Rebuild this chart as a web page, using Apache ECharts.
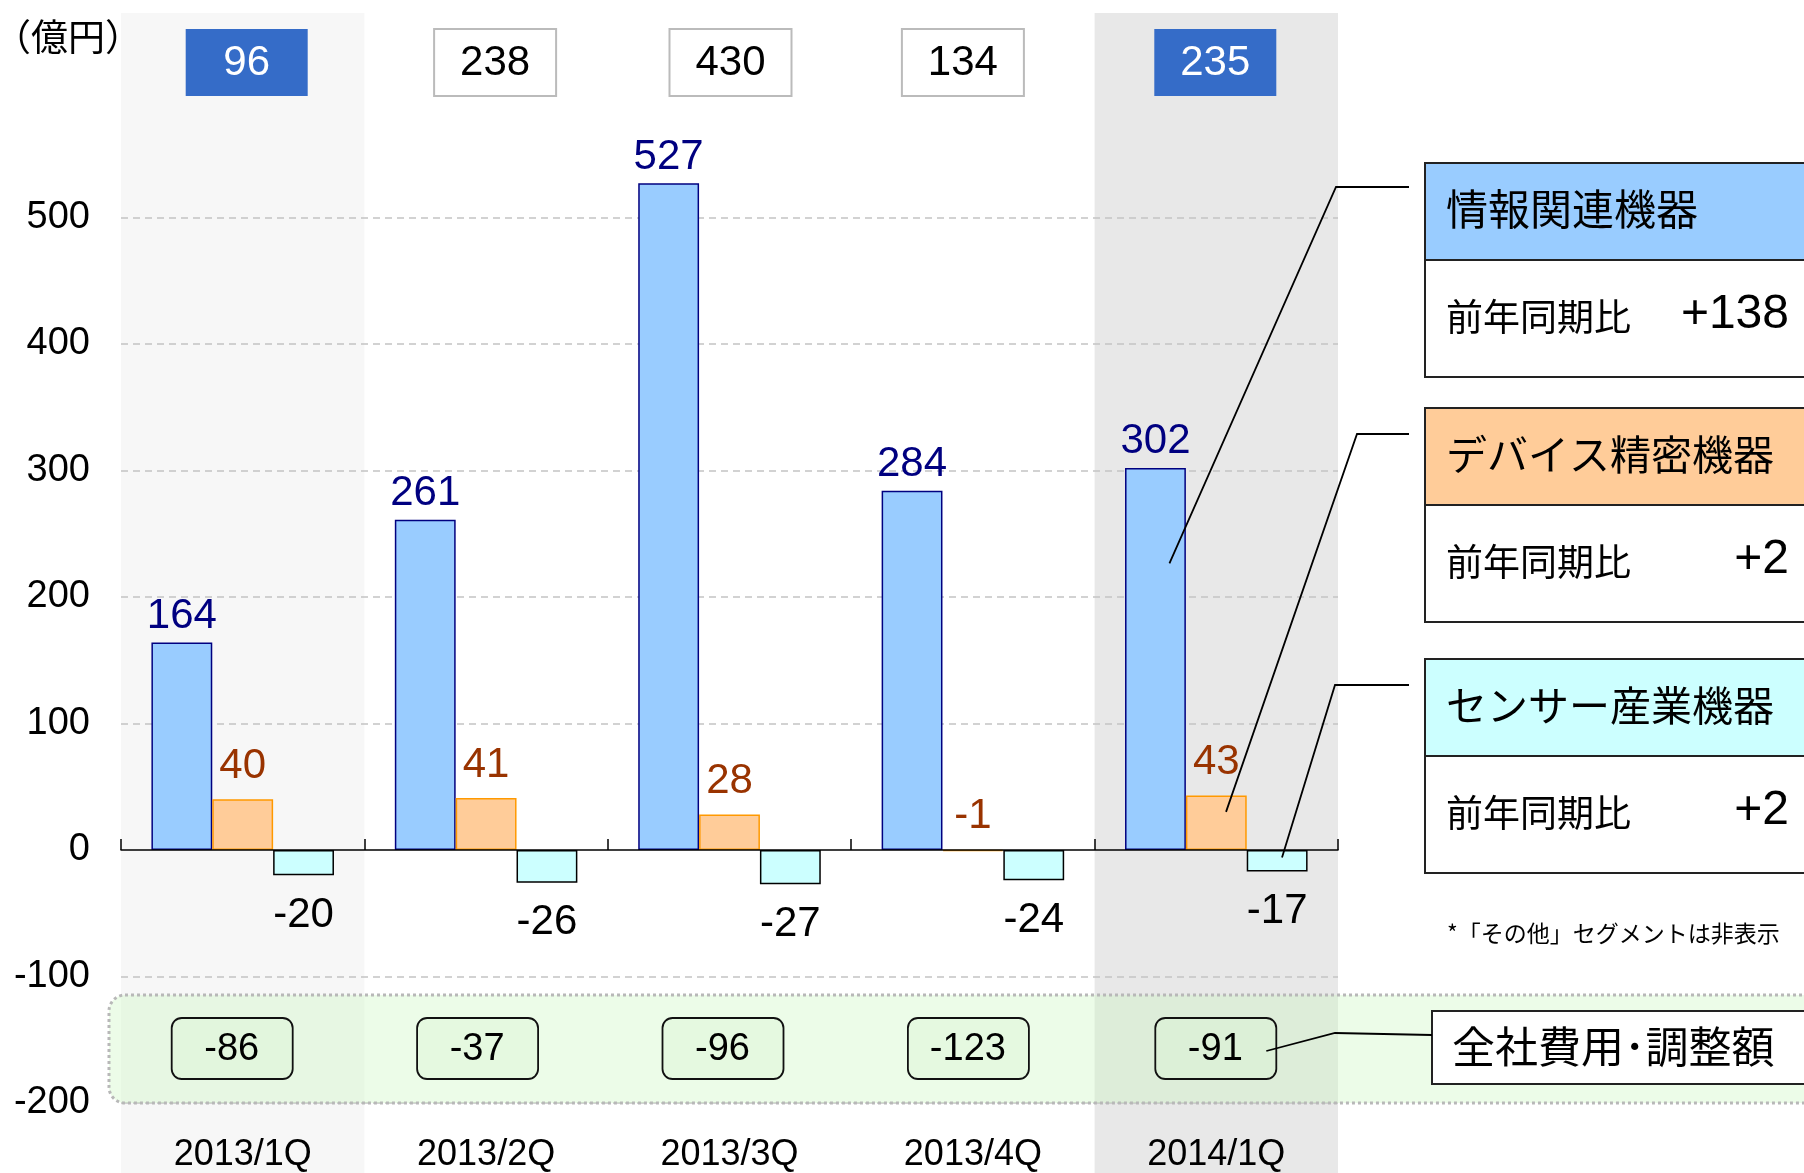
<!DOCTYPE html>
<html><head><meta charset="utf-8">
<script src="https://cdn.jsdelivr.net/npm/echarts@6/dist/echarts.min.js"></script>
<style>html,body{margin:0;padding:0;background:#fff;}#c{width:1804px;height:1173px;}</style>
</head><body><div id="c"></div>
<script>
const categories = ['2013/1Q', '2013/2Q', '2013/3Q', '2013/4Q', '2014/1Q'];
const infoValues = [164, 261, 527, 284, 302];
const deviceValues = [40, 41, 28, -1, 43];
const sensorValues = [-20, -26, -27, -24, -17];
const totalValues = [96, 238, 430, 134, 235];
const adjustValues = [-86, -37, -96, -123, -91];
const highlighted = [true, false, false, false, true];
const yTicks = [-200, -100, 0, 100, 200, 300, 400, 500];
const segmentNames = ['情報関連機器', 'デバイス精密機器', 'センサー産業機器'];
const yoyLabel = '前年同期比';
const yoyValues = ['+138', '+2', '+2'];
const unitLabel = '（億円）';
const adjustName = '全社費用･調整額';
const noteText = '*「その他」セグメントは非表示';

// small horizontal nudges of the annotation boxes (layout only)
const totalBoxNudge = [4, 9, 1, -10, -1];
const adjustBoxNudge = [-11, -9, -7, -5, -1];

const NUMFONT = '"Liberation Sans", Arial, "Noto Sans CJK JP", sans-serif';
const JPFONT = '"Noto Sans CJK JP", "Noto Sans", sans-serif';

const chart = echarts.init(document.getElementById('c'), null, {renderer: 'canvas'});

const option = {
  animation: false,
  backgroundColor: '#fff',
  grid: {left: 121, right: 466, top: 15, bottom: 69, containLabel: false},
  xAxis: [
    {
      type: 'category', data: categories, position: 'bottom', z: 3,
      axisLine: {onZero: true, lineStyle: {color: '#000', width: 1.5}},
      axisTick: {show: true, inside: true, length: 11, alignWithLabel: false, lineStyle: {color: '#000', width: 1.5}},
      axisLabel: {show: false}, splitLine: {show: false}
    },
    {
      type: 'category', data: categories, position: 'bottom',
      axisLine: {show: false, onZero: false}, axisTick: {show: false}, splitLine: {show: false},
      axisLabel: {show: true, margin: 34, fontSize: 36, color: '#000', fontFamily: NUMFONT}
    }
  ],
  yAxis: {
    type: 'value', min: -200, max: 660, interval: 100,
    axisLine: {show: false}, axisTick: {show: false}, splitLine: {show: false},
    axisLabel: {margin: 31, fontSize: 38, color: '#000', fontFamily: NUMFONT,
      formatter: v => (yTicks.indexOf(v) >= 0 ? String(v) : '')}
  },
  series: [
    {
      name: segmentNames[0], type: 'bar', xAxisIndex: 0, data: infoValues, z: 2,
      barGap: '0%', barCategoryGap: '25%',
      itemStyle: {color: '#99ccff', borderColor: '#000080', borderWidth: 1.5},
      label: {show: true, position: 'top', distance: 5, color: '#000080', fontSize: 42, fontFamily: NUMFONT},
      markLine: {
        silent: true, z: 1, symbol: ['none', 'none'], label: {show: false},
        lineStyle: {color: '#c4c4c4', width: 1.5, type: [7, 5]},
        data: yTicks.filter(v => v !== 0).map(v => ({yAxis: v}))
      }
    },
    {
      name: segmentNames[1], type: 'bar', xAxisIndex: 0, data: deviceValues, z: 2,
      barGap: '0%', barCategoryGap: '25%',
      itemStyle: {color: '#ffcc99', borderColor: '#ff9900', borderWidth: 1.5},
      label: {show: true, position: 'top', distance: 12, color: '#993300', fontSize: 42, fontFamily: NUMFONT}
    },
    {
      name: segmentNames[2], type: 'bar', xAxisIndex: 0, data: sensorValues, z: 2,
      barGap: '0%', barCategoryGap: '25%',
      itemStyle: {color: '#ccffff', borderColor: '#000', borderWidth: 1.5},
      label: {show: true, position: 'bottom', distance: 19, color: '#000', fontSize: 42, fontFamily: NUMFONT}
    }
  ]
};
chart.setOption(option);

const P = (i, v) => chart.convertToPixel({seriesIndex: 0}, [i, v]);
const cx = i => P(i, 0)[0];
const band = cx(1) - cx(0);
const yTop = P(0, 660)[1] - 2;
const gridRight = cx(4) + band / 2;
const barW = band * 0.75 / 3;
const mid = {textVerticalAlign: 'middle', verticalAlign: 'middle'};

const g = [];
// category shading
g.push({type: 'rect', z: -1, silent: true, shape: {x: cx(0) - band / 2, y: yTop, width: band, height: 1173 - yTop}, style: {fill: '#f7f7f7'}});
g.push({type: 'rect', z: -1, silent: true, shape: {x: cx(4) - band / 2, y: yTop, width: band, height: 1173 - yTop}, style: {fill: '#e8e8e8'}});

// unit label
g.push({type: 'text', z: 10, style: Object.assign({text: unitLabel, x: -6, y: 37, font: '37px ' + JPFONT, fill: '#000', textAlign: 'left'}, mid)});

// total boxes
totalValues.forEach((v, i) => {
  const c = cx(i) + totalBoxNudge[i];
  g.push({type: 'rect', z: 10, shape: {x: c - 61, y: 29, width: 122, height: 67},
    style: highlighted[i] ? {fill: '#356cc8'} : {fill: '#fff', stroke: '#bbbbbb', lineWidth: 2}});
  g.push({type: 'text', z: 11, style: Object.assign({text: String(v), x: c, y: 63, font: '42px ' + NUMFONT,
    fill: highlighted[i] ? '#fff' : '#000', textAlign: 'center'}, mid)});
});

// adjustment band
g.push({type: 'rect', z: 1, silent: true, shape: {x: 109, y: 995, width: 1760, height: 108, r: 16},
  style: {fill: 'rgba(200,245,190,0.35)', stroke: '#b8b8b8', lineWidth: 3, lineDash: [3, 3]}});
adjustValues.forEach((v, i) => {
  const c = cx(i) + adjustBoxNudge[i];
  g.push({type: 'rect', z: 10, shape: {x: c - 60, y: 1018, width: 121, height: 61, r: 10},
    style: {fill: 'rgba(220,245,212,0.4)', stroke: '#111', lineWidth: 1.8}});
  g.push({type: 'text', z: 11, style: Object.assign({text: String(v), x: c, y: 1050, font: '38px ' + NUMFONT,
    fill: '#000', textAlign: 'center'}, mid)});
});

// segment panels
const panelTops = [163, 408, 659];
const headerColors = ['#99ccff', '#ffcc99', '#ccffff'];
panelTops.forEach((t, k) => {
  g.push({type: 'rect', z: 10, shape: {x: 1425, y: t, width: 420, height: 97}, style: {fill: headerColors[k], stroke: '#222', lineWidth: 2}});
  g.push({type: 'rect', z: 10, shape: {x: 1425, y: t + 97, width: 420, height: 117}, style: {fill: '#fff', stroke: '#222', lineWidth: 2}});
  g.push({type: 'text', z: 11, style: Object.assign({text: segmentNames[k], x: 1446, y: t + 46, font: (k === 0 ? '42px ' : '41px ') + JPFONT, fill: '#000', textAlign: 'left'}, mid)});
  g.push({type: 'text', z: 11, style: Object.assign({text: yoyLabel, x: 1446, y: t + 154, font: '37px ' + JPFONT, fill: '#000', textAlign: 'left'}, mid)});
  g.push({type: 'text', z: 11, style: Object.assign({text: yoyValues[k], x: 1789, y: t + 152, font: '48px ' + NUMFONT, fill: '#000', textAlign: 'right'}, mid)});
});
g.push({type: 'text', z: 11, style: Object.assign({text: noteText, x: 1447, y: 933, font: '23px ' + JPFONT, fill: '#000', textAlign: 'left'}, mid)});

// adjustment name box
g.push({type: 'rect', z: 10, shape: {x: 1432, y: 1011, width: 420, height: 73}, style: {fill: '#fff', stroke: '#222', lineWidth: 2}});
g.push({type: 'text', z: 11, style: Object.assign({text: adjustName, x: 1452, y: 1047, font: '43px ' + JPFONT, fill: '#000', textAlign: 'left'}, mid)});

// callout lines
const c4 = cx(4);
const blueLeft = c4 - 1.5 * barW, orangeLeft = c4 - 0.5 * barW, cyanLeft = c4 + 0.5 * barW;
const lines = [
  [[blueLeft + 0.73 * barW, P(4, infoValues[4] * 0.75)[1]], [gridRight - 2, 187], [1409, 187]],
  [[orangeLeft + 0.66 * barW, P(4, deviceValues[4] * 0.7)[1]], [gridRight + 19, 434], [1409, 434]],
  [[cyanLeft + 0.58 * barW, P(4, sensorValues[4] * 0.35)[1]], [gridRight - 3, 685], [1409, 685]],
  [[c4 + 50, 1051], [gridRight - 3, 1033], [1432, 1035]]
];
lines.forEach(pts => {
  g.push({type: 'polyline', z: 12, silent: true, shape: {points: pts}, style: {stroke: '#000', lineWidth: 1.8, fill: null}});
});

chart.setOption({graphic: {elements: g}});
</script>
</body></html>
